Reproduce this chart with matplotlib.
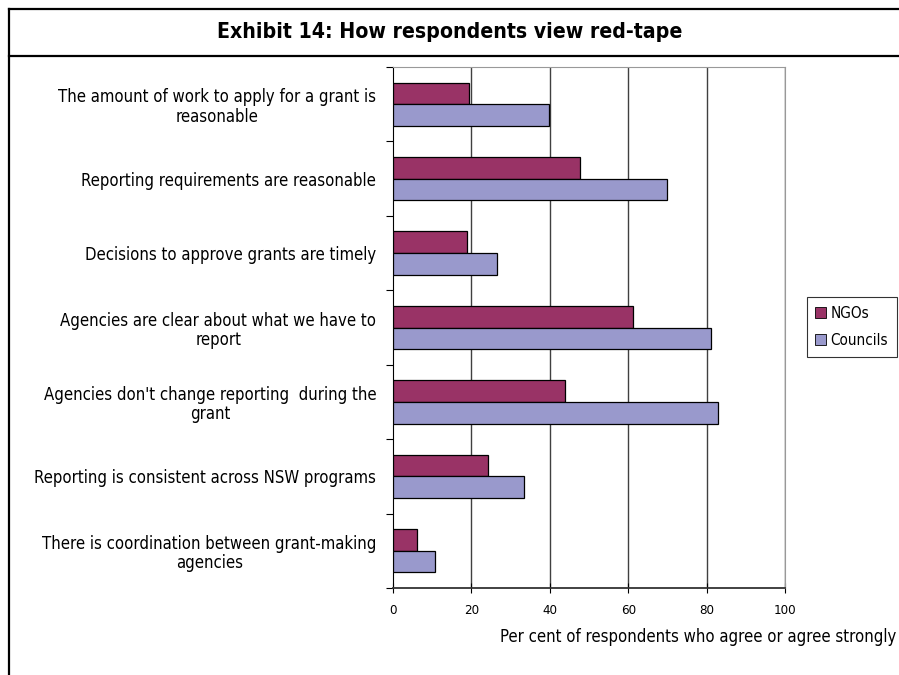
import matplotlib
matplotlib.use("Agg")
import matplotlib.pyplot as plt
from matplotlib.lines import Line2D
import numpy as np

plt.rcParams['font.family'] = ['DejaVu Sans']
plt.rcParams['font.stretch'] = 'condensed'

categories = [
    "The amount of work to apply for a grant is\nreasonable",
    "Reporting requirements are reasonable",
    "Decisions to approve grants are timely",
    "Agencies are clear about what we have to\nreport",
    "Agencies don't change reporting  during the\ngrant",
    "Reporting is consistent across NSW programs",
    "There is coordination between grant-making\nagencies",
]
ngos = [19.5, 47.7, 18.9, 61.3, 44.0, 24.2, 6.0]
councils = [39.7, 69.8, 26.5, 81.1, 82.8, 33.5, 10.6]
xticks = [0, 20, 40, 60, 80, 100]

fig = plt.figure(figsize=(8.99, 6.75), dpi=100)
ax = fig.add_axes([393/899, 1-588/675, 392/899, 521/675])

y = np.arange(len(categories))
h = 0.29
ax.barh(y - h/2, ngos, height=h, color='#993366', edgecolor='black', lw=0.9, label='NGOs', zorder=3)
ax.barh(y + h/2, councils, height=h, color='#9999CC', edgecolor='black', lw=0.9, label='Councils', zorder=3)

ax.set_xlim(0, 100)
ax.set_ylim(len(categories) - 0.5, -0.5)
ax.set_xticks(xticks)
ax.set_xticklabels([str(v) for v in xticks], fontsize=9.5)
ax.tick_params(axis='x', direction='inout', length=7, width=0.8, pad=8)
for v in xticks[1:]:
    ax.axvline(v, color='#404040', lw=1.0, zorder=1)

ax.set_yticks(y)
ax.set_yticklabels(categories, fontsize=12)
for t in ax.get_yticklabels():
    t.set_multialignment('center')
    t.set_linespacing(1.1)
ax.tick_params(axis='y', which='major', length=0, pad=12)
ax.set_yticks(np.arange(-0.5, len(categories) + 0.5, 1), minor=True)
ax.tick_params(axis='y', which='minor', direction='out', length=5, width=0.8)

ax.spines['left'].set_color('black')
ax.spines['bottom'].set_color('#333333')
ax.spines['bottom'].set_linewidth(1.3)
ax.spines['top'].set_color('#999999')
ax.spines['right'].set_color('#999999')

ax.set_xlabel("Per cent of respondents who agree or agree strongly", fontsize=12)
ax.xaxis.set_label_coords(896/899, 1-637/675, transform=fig.transFigure)
ax.xaxis.label.set_ha('right')
ax.xaxis.label.set_va('center')

leg = ax.legend(loc='center left', bbox_to_anchor=(807/899, 1-327/675), bbox_transform=fig.transFigure,
                fontsize=11, frameon=True, fancybox=False, edgecolor='black',
                handlelength=0.7, handleheight=0.7, handletextpad=0.3, borderpad=0.55,
                labelspacing=0.8, borderaxespad=0)
leg.get_frame().set_linewidth(0.8)
for p in leg.get_patches():
    p.set_linewidth(0.6)

fig.text(450/899, 1-32/675, "Exhibit 14: How respondents view red-tape", ha='center', va='center',
         fontsize=15.2, fontweight='bold')

fig.add_artist(Line2D([9/899, 9/899], [0, 1-9/675], color='black', lw=1.6, transform=fig.transFigure))
fig.add_artist(Line2D([9/899, 1], [1-9/675, 1-9/675], color='black', lw=1.6, transform=fig.transFigure))
fig.add_artist(Line2D([9/899, 1], [1-56/675, 1-56/675], color='black', lw=1.6, transform=fig.transFigure))

fig.savefig("out.png", dpi=100)
